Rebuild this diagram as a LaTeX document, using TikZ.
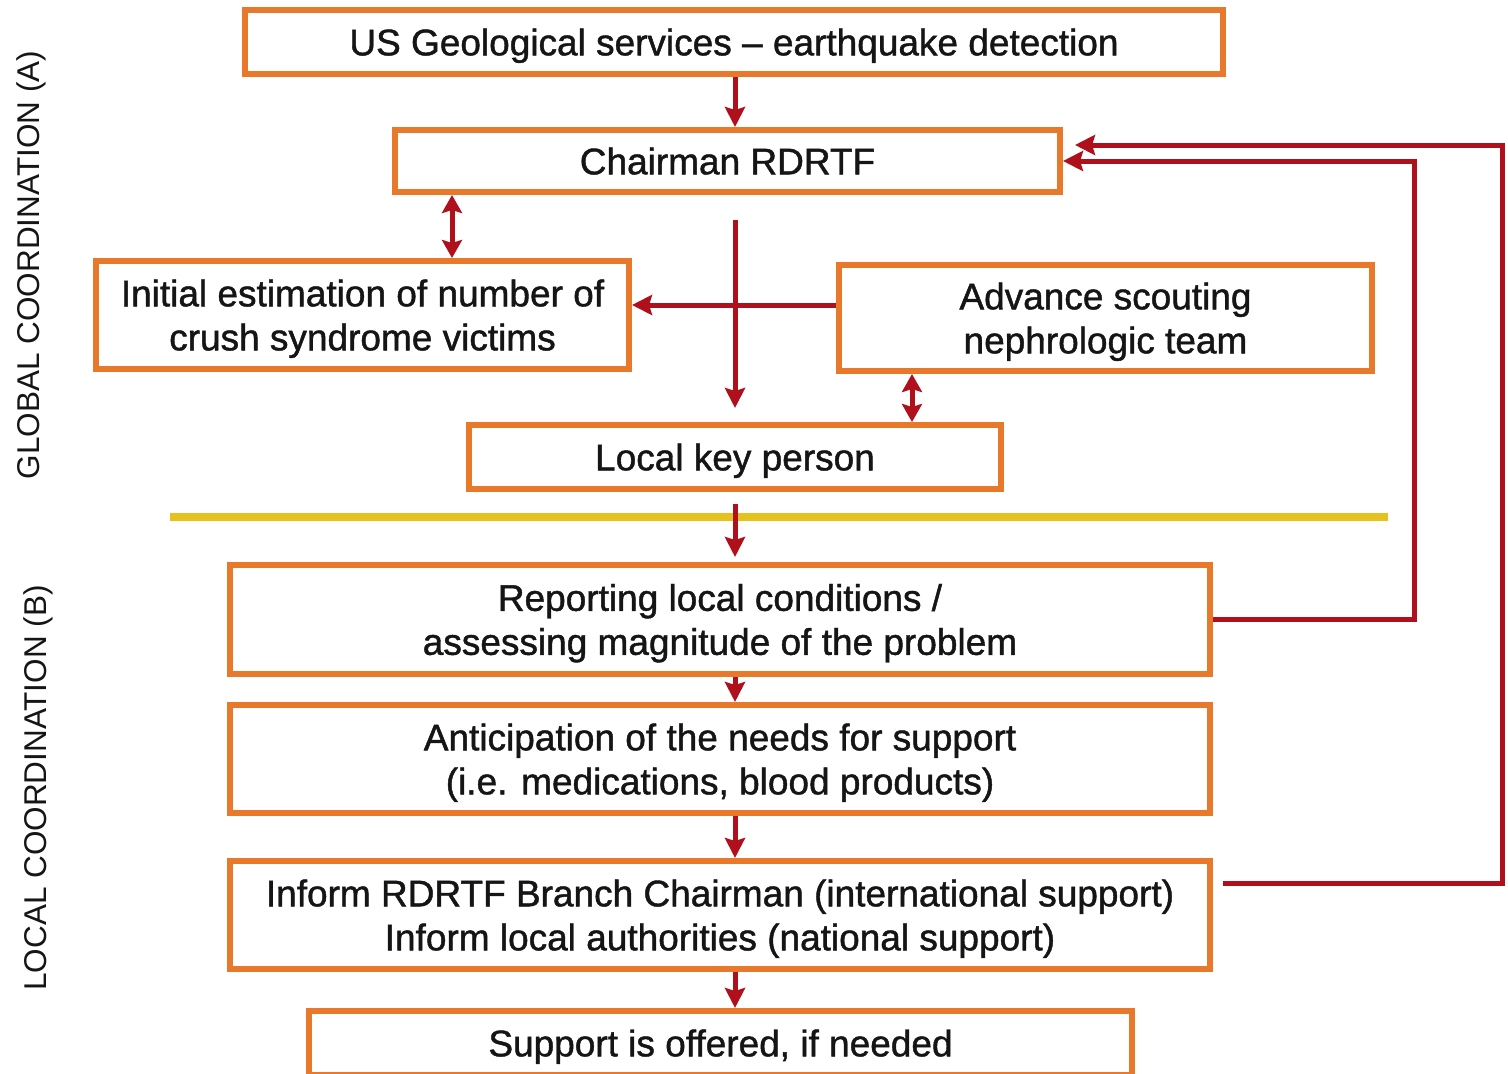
\documentclass[tikz,border=0pt]{standalone}
\usepackage{fontspec}
\setmainfont{Liberation Sans}
\newfontfamily\boxfont{Liberation Sans}[FakeBold=1.2,Ligatures=TeX]
\usetikzlibrary{arrows.meta}
\definecolor{boxorange}{HTML}{E8792B}
\definecolor{arrred}{HTML}{B0101C}
\definecolor{sepyellow}{HTML}{E5C21E}
\definecolor{txt}{HTML}{151515}
\newcommand\bstrut{\rule[-8.4pt]{0pt}{43.4pt}}
\begin{document}
\begin{tikzpicture}[x=1pt,y=-1pt,
  flowbox/.style={draw=boxorange, line width=6pt, fill=white, text=txt,
    font=\boxfont\fontsize{37}{44}\selectfont, align=center, inner sep=0pt},
  conn/.style={draw=arrred, line width=5pt, -{Stealth[length=20pt,width=20pt,inset=3pt]}},
  biconn/.style={draw=arrred, line width=5pt, {Stealth[length=18pt,width=20pt,inset=3pt]}-{Stealth[length=18pt,width=20pt,inset=3pt]}},
  sidelabel/.style={rotate=90, text=txt, font=\fontsize{31.5}{36}\selectfont, inner sep=0pt}
]
\useasboundingbox (0,0) rectangle (1508,1074);
\fill[white] (0,0) rectangle (1508,1074);

% side labels
\node[sidelabel] (lga) at (31,265) {GLOBAL COORDINATION (A)};
\node[sidelabel] (llb) at (38,788) {LOCAL COORDINATION (B)};

% separator
\coordinate (sepL) at (170,517);
\coordinate (sepR) at (1388,517);
\draw[sepyellow, line width=8pt] (sepL) -- (sepR);

% boxes
\node[flowbox, minimum width=978pt, minimum height=64pt] (b1) at (734,42) {\bstrut US Geological services – earthquake detection};
\node[flowbox, minimum width=665pt, minimum height=62pt] (b2) at (727.5,161) {\bstrut Chairman RDRTF};
\node[flowbox, minimum width=533pt, minimum height=108pt] (b3) at (362.5,315) {\bstrut Initial estimation of number of\\\bstrut crush syndrome victims};
\node[flowbox, minimum width=533pt, minimum height=106pt] (b4) at (1105.5,318) {\bstrut Advance scouting\\\bstrut nephrologic team};
\node[flowbox, minimum width=532pt, minimum height=64pt] (b5) at (735,457) {\bstrut Local key person};
\node[flowbox, minimum width=980pt, minimum height=109pt] (b6) at (720,619.5) {\bstrut Reporting local conditions /\\\bstrut assessing magnitude of the problem};
\node[flowbox, minimum width=980pt, minimum height=108pt] (b7) at (720,759) {\bstrut Anticipation of the needs for support\\\bstrut (i.e. medications, blood products)};
\node[flowbox, minimum width=980pt, minimum height=108pt] (b8) at (720,915) {\bstrut Inform RDRTF Branch Chairman (international support)\\\bstrut Inform local authorities (national support)};
\node[flowbox, minimum width=823pt, minimum height=64pt] (b9) at (720.5,1043) {\bstrut Support is offered, if needed};

% helper coordinates
\coordinate (xmain) at (735,0);
\coordinate (x452) at (452,0);
\coordinate (x912) at (912,0);
\coordinate (v1) at (735,220);
\coordinate (v2) at (735,408);
\coordinate (y305) at (0,305);
\coordinate (k1) at (735,504);
\coordinate (k2) at (735,557);
\coordinate (r1) at (1414,0);
\coordinate (r2) at (1502,0);
\coordinate (s1) at (1223,883);
\coordinate (t1) at (1075,145);

% connectors
\draw[conn] (b1.south -| xmain) -- (b2.north -| xmain);
\draw[biconn] (b2.south -| x452) -- (b3.north -| x452);
\draw[conn] (v1) -- (v2);
\draw[conn] (b4.west |- y305) -- (b3.east |- y305);
\draw[biconn] (b4.south -| x912) -- (b5.north -| x912);
\draw[conn] (k1) -- (k2);
\draw[conn] (b6.south -| xmain) -- (b7.north -| xmain);
\draw[conn] (b7.south -| xmain) -- (b8.north -| xmain);
\draw[conn] (b8.south -| xmain) -- (b9.north -| xmain);
\draw[conn] (b6.east) -- (b6.east -| r1) -- (r1 |- b2.east) -- (b2.east);
\draw[conn] (s1) -- (s1 -| r2) -- (r2 |- t1) -- (t1);
\end{tikzpicture}
\end{document}
